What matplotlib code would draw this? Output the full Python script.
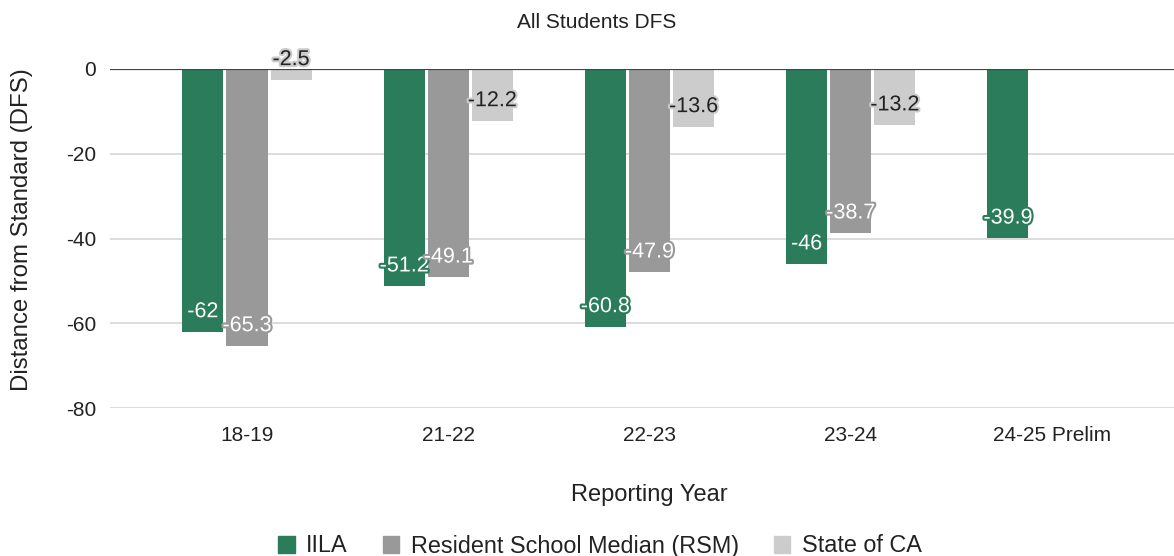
import numpy as np
import matplotlib
matplotlib.use("Agg")
import matplotlib.pyplot as plt
from matplotlib.patches import Patch
import matplotlib.patheffects as pe

plt.rcParams['font.family'] = ['Liberation Sans', 'DejaVu Sans']

categories = ["18-19", "21-22", "22-23", "23-24", "24-25 Prelim"]
series_names = ["IILA", "Resident School Median (RSM)", "State of CA"]
iila = [-62, -51.2, -60.8, -46, -39.9]
rsm = [-65.3, -49.1, -47.9, -38.7, np.nan]
state = [-2.5, -12.2, -13.6, -13.2, np.nan]
yticks = [0, -20, -40, -60, -80]

colors = ["#2a7c5b", "#999999", "#cccccc"]
text_colors = ["white", "white", "#222222"]

W, H = 1174, 556
fig = plt.figure(figsize=(W / 100, H / 100), dpi=100)
ax = fig.add_axes([110 / W, 1 - 408 / H, (1174 - 110) / W, (408 - 69) / H])

x = np.arange(len(categories))
bw = 0.204
step = 0.219
for i, (vals, c, tc) in enumerate(zip([iila, rsm, state], colors, text_colors)):
    xs = x + (i - 1) * step
    ax.bar(xs, vals, width=bw, color=c, zorder=2)
    for xi, v in zip(xs, vals):
        if np.isnan(v):
            continue
        ax.annotate(f"{v:g}", (xi, v), xytext=(0, 14.4), textcoords="offset points",
                    ha="center", va="center", fontsize=15.5, color=tc, zorder=5,
                    path_effects=[pe.withStroke(linewidth=3, foreground=c)])

ax.axhline(0, color="#444444", lw=1.6, zorder=3)
ax.set_ylim(-80, 0)
ax.set_xlim((110 - 247) / 201.25, (1174 - 247) / 201.25)
ax.set_yticks(yticks)
ax.set_yticklabels([str(t) for t in yticks])
ax.set_xticks(x)
ax.set_xticklabels(categories)
ax.tick_params(axis="both", length=0, labelsize=15, colors="#222222")
ax.tick_params(axis="y", pad=10)
ax.tick_params(axis="x", pad=13)
ax.grid(axis="y", color="#d9d9d9", lw=1.3, zorder=0)
ax.set_axisbelow(True)
for s in ax.spines.values():
    s.set_visible(False)

fig.text(597 / W, 1 - 22 / H, "All Students DFS", ha="center", va="center", fontsize=15, color="#222222")
fig.text(649 / W, 1 - 495 / H, "Reporting Year", ha="center", va="center", fontsize=17, color="#222222")
fig.text(22 / W, 1 - 230 / H, "Distance from Standard (DFS)", ha="center", va="center",
         rotation=90, fontsize=17.3, color="#222222")

handles = [Patch(color=c, label=n) for c, n in zip(colors, series_names)]
fig.legend(handles=handles, loc="center", bbox_to_anchor=(600 / W, 1 - 546 / H), ncol=3,
           frameon=False, fontsize=16.8, handlelength=0.7, handleheight=0.7,
           handletextpad=0.5, columnspacing=1.5, labelcolor="#222222")

fig.savefig("out.png", dpi=100)
